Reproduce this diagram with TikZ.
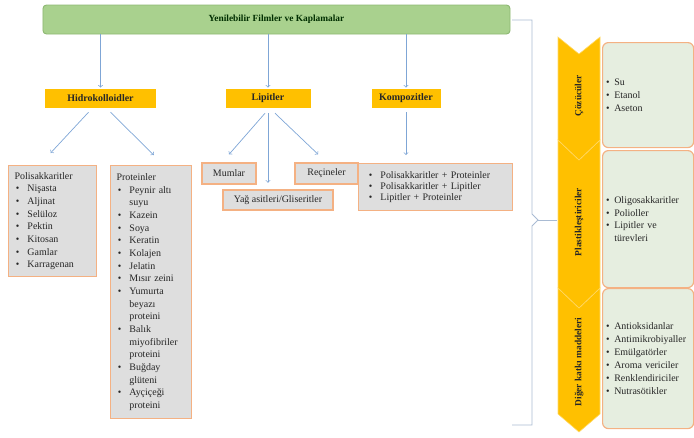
\documentclass[tikz,border=0pt]{standalone}
\usepackage{fontspec}
\setmainfont{Liberation Serif}[BoldFont={Liberation Serif Bold}]
\usetikzlibrary{positioning}
\definecolor{baslikyesil}{HTML}{A9D18E}
\definecolor{baslikkenar}{HTML}{8DB873}
\definecolor{turuncu}{HTML}{FFC000}
\definecolor{gri}{HTML}{DEDEDE}
\definecolor{seftali}{HTML}{F4B183}
\definecolor{acikyesil}{HTML}{E6EEE0}
\definecolor{okmavi}{HTML}{7FA6D6}
\definecolor{parantez}{HTML}{A9BBD3}
\newcommand{\madde}{\makebox[11pt][l]{\hspace{1pt}\textbullet}}
\newcommand{\devam}{\hspace{11pt}}
\newcommand{\kmadde}{\makebox[7pt][l]{\textbullet}}
\tikzset{
  ana/.style={draw=baslikkenar, fill=baslikyesil, rounded corners=3pt, line width=0.8pt, minimum width=14.01cm, minimum height=0.87cm, font=\fontsize{8}{10}\selectfont\bfseries, text=black!70!green!60!black},
  grup/.style={fill=turuncu, minimum height=0.57cm, font=\fontsize{8.5}{10}\selectfont\bfseries, inner sep=1pt, text=black!85},
  kutu/.style={draw=seftali, fill=gri, line width=1pt, font=\fontsize{8.5}{10}\selectfont, inner sep=2pt, text=black!85},
  liste/.style={kutu, align=left, anchor=north west, inner xsep=0.18cm},
  yankutu/.style={draw=seftali, fill=acikyesil, line width=1pt, rounded corners=5pt, font=\fontsize{8.5}{11}\selectfont, align=left, anchor=north west, text width=2.52cm, inner xsep=3pt, text=black!85},
  ok/.style={->, draw=okmavi, line width=0.6pt},
  serit/.style={fill=turuncu, draw=turuncu!60!white, line width=0.5pt},
  etiket/.style={rotate=90, font=\fontsize{8}{10}\selectfont\bfseries, text=black!85},
}
\begin{document}
\begin{tikzpicture}[x=0.03cm, y=-0.03cm]
	\useasboundingbox (0,0) rectangle (694,437);
	\node[ana]                        (ana)      at (276.5,19.5) {Yenilebilir Filmler ve Kaplamalar};
	\node[grup, minimum width=3.33cm] (hidro)    at (100.5,98.5) {Hidrokolloidler};
	\node[grup, minimum width=2.55cm] (lipit)    at (268,98.5)   {Lipitler};
	\node[grup, minimum width=2.07cm] (kompozit) at (406,98.5)   {Kompozitler};

	\node[liste, minimum width=2.64cm, minimum height=3.33cm, text width=2.28cm, font=\fontsize{8.5}{10.8}\selectfont] (polisakkarit) at (8,165)
		{Polisakkaritler\\ \madde Nişasta\\ \madde Aljinat\\ \madde Selüloz\\ \madde Pektin\\ \madde Kitosan\\ \madde Gamlar\\ \madde Karragenan};
	\node[liste, minimum width=2.43cm, minimum height=7.59cm, text width=2.07cm, font=\fontsize{8.5}{10.8}\selectfont] (protein) at (110,165)
		{Proteinler\\ \madde Peynir altı\\ \devam suyu\\ \madde Kazein\\ \madde Soya\\ \madde Keratin\\ \madde Kolajen\\ \madde Jelatin\\ \madde Mısır zeini\\ \madde Yumurta\\ \devam beyazı\\ \devam proteini\\ \madde Balık\\ \devam miyofibriler\\ \devam proteini\\ \madde Buğday\\ \devam glüteni\\ \madde Ayçiçeği\\ \devam proteini};

	\node[kutu, minimum width=1.62cm, minimum height=0.63cm] (mum)     at (229,173.5)  {Mumlar};
	\node[kutu, minimum width=1.89cm, minimum height=0.63cm] (recine)  at (326.5,173.5) {Reçineler};
	\node[kutu, minimum width=3.3cm, minimum height=0.6cm]   (yagasit) at (278,200)    {Yağ asitleri/Gliseritler};
	\node[liste, minimum width=4.62cm, minimum height=1.41cm, text width=4.08cm, inner xsep=0.27cm, font=\fontsize{8.5}{9.8}\selectfont] (karisim) at (358,163)
		{\madde Polisakkaritler + Proteinler\\ \madde Polisakkaritler + Lipitler\\ \madde Lipitler + Proteinler};

	\draw[ok, shorten >=1pt] (hidro.north |- ana.south) -- (hidro.north);
	\draw[ok, shorten >=1pt] (lipit.north |- ana.south) -- (lipit.north);
	\draw[ok, shorten >=1pt] (kompozit.north |- ana.south) -- (kompozit.north);
	\draw[ok] ([xshift=-0.36cm, yshift=-0.12cm]hidro.south) -- ([xshift=-0.06cm, yshift=0.36cm]polisakkarit.north);
	\draw[ok] ([xshift=0.3cm, yshift=-0.12cm]hidro.south) -- ([xshift=0.08cm, yshift=0.3cm]protein.north);
	\draw[ok] ([xshift=-0.09cm, yshift=-0.15cm]lipit.south) -- ([yshift=0.24cm]mum.north);
	\draw[ok] ([xshift=0.21cm, yshift=-0.15cm]lipit.south) -- ([xshift=-0.25cm, yshift=0.24cm]recine.north);
	\draw[ok] ([yshift=-0.15cm]lipit.south) -- ([yshift=0.2cm]lipit.south |- yagasit.north);
	\draw[ok] ([yshift=-0.12cm]kompozit.south) -- ([yshift=0.24cm]kompozit.south |- karisim.north);

	\draw[parantez, line width=0.7pt] (512,20) -- (532,20) -- (532,214) -- (538,220) -- (532,226) -- (532,425) -- (512,425);
	\draw[parantez, line width=0.7pt] (538,220) -- (557,220);

	\draw[serit] (558,288) -- (579,308) -- (600,288) -- (600,414) -- (579,432) -- (558,414) -- cycle;
	\draw[serit] (558,140) -- (579,160) -- (600,140) -- (600,288) -- (579,308) -- (558,288) -- cycle;
	\draw[serit] (558,37) -- (579,54) -- (600,37) -- (600,140) -- (579,160) -- (558,140) -- cycle;
	\node[etiket] (cozucuyazi)  at (579,96)  {Çözücüler};
	\node[etiket] (plastikyazi) at (579,222) {Plastikleştiriciler};
	\node[etiket] (katkiyazi)   at (579,362) {Diğer katkı maddeleri};

	\node[yankutu, minimum height=3.15cm] (cozucu)  at (602,42)  {\kmadde Su\\ \kmadde Etanol\\ \kmadde Aseton};
	\node[yankutu, minimum height=4.11cm] (plastik) at (602,150) {\kmadde Oligosakkaritler\\ \kmadde Polioller\\ \kmadde Lipitler ve\\ \hspace{7pt}türevleri};
	\node[yankutu, minimum height=4.2cm]  (katki)   at (602,288) {\kmadde Antioksidanlar\\ \kmadde Antimikrobiyaller\\ \kmadde Emülgatörler\\ \kmadde Aroma vericiler\\ \kmadde Renklendiriciler\\ \kmadde Nutrasötikler};
\end{tikzpicture}
\end{document}
